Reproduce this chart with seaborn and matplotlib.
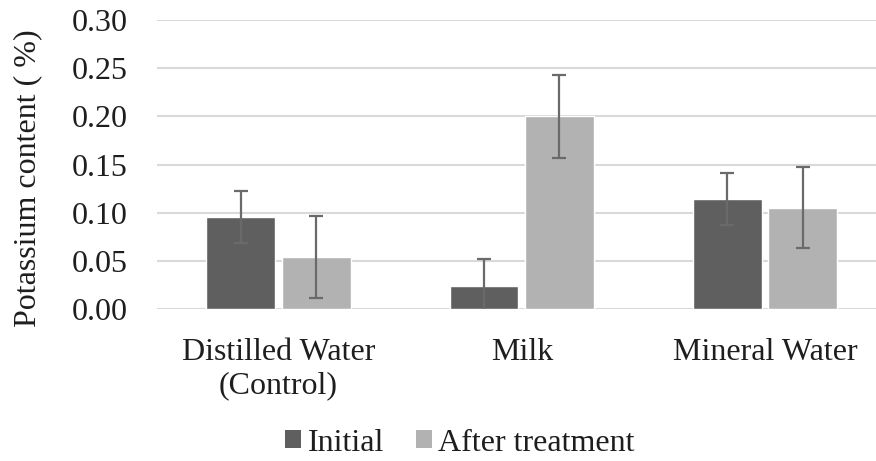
import matplotlib
matplotlib.use("Agg")
import matplotlib.pyplot as plt
import seaborn as sns
import pandas as pd
from matplotlib.patches import Patch

categories = ["Distilled Water\n(Control)", "Milk", "Mineral Water"]
series = ["Initial", "After treatment"]
initial_vals = [0.095, 0.024, 0.114]
after_vals = [0.054, 0.200, 0.105]
initial_err = [0.027, 0.028, 0.027]
after_err = [0.043, 0.043, 0.042]
yticks = [0.00, 0.05, 0.10, 0.15, 0.20, 0.25, 0.30]

colors = ["#5f5f5f", "#b2b2b2"]
FS = 23

sns.set_theme(style="white")
plt.rcParams["font.family"] = ["Liberation Serif", "DejaVu Serif"]

df = pd.DataFrame({
    "category": categories * 2,
    "series": [series[0]] * 3 + [series[1]] * 3,
    "value": initial_vals + after_vals,
})

fig = plt.figure(figsize=(8.76, 4.61), dpi=100)
ax = fig.add_axes([157 / 876, (461 - 309) / 461, 729.5 / 876, 289 / 461])

sns.barplot(data=df, x="category", y="value", hue="series", order=categories,
            hue_order=series, palette=colors, width=0.62, gap=0.087,
            errorbar=None, saturation=1, ax=ax, legend=False, zorder=3)

errs = [initial_err, after_err]
for cont, err in zip(ax.containers, errs):
    xs = [p.get_x() + p.get_width() / 2 for p in cont.patches]
    hs = [p.get_height() for p in cont.patches]
    ax.errorbar(xs, hs, yerr=err, fmt="none", ecolor="#6a6a6a",
                elinewidth=1.6, capsize=5, capthick=1.6, zorder=4)

ax.set_xlim(-0.5, 2.5)
ax.set_ylim(0, 0.30)
ax.set_yticks(yticks)
ax.set_yticklabels([f"{t:.2f}" for t in yticks])
ax.yaxis.grid(True, color="#d9d9d9", linewidth=1.5, zorder=0)
ax.set_axisbelow(True)
for s in ax.spines.values():
    s.set_visible(False)
ax.tick_params(axis="y", length=0, pad=21, labelsize=FS, labelcolor="#1e1e1e")
ax.tick_params(axis="x", length=0, pad=21, labelsize=FS, labelcolor="#1e1e1e")
for lbl in ax.get_xticklabels():
    lbl.set_linespacing(1.2)
ax.set_xlabel("")
ax.set_ylabel("Potassium content ( %)", fontsize=FS, color="#1e1e1e")
ax.yaxis.set_label_coords(-0.158, 0.453)

handles = [Patch(facecolor=c, edgecolor="none") for c in colors]
fig.legend(handles, series, loc="center", bbox_to_anchor=(460 / 876, 1 - 443 / 461),
           ncol=2, frameon=False, fontsize=FS, handlelength=0.5, handleheight=0.5,
           handletextpad=0.2, columnspacing=1.0, labelcolor="#1e1e1e")

fig.savefig("out.png", dpi=100)
